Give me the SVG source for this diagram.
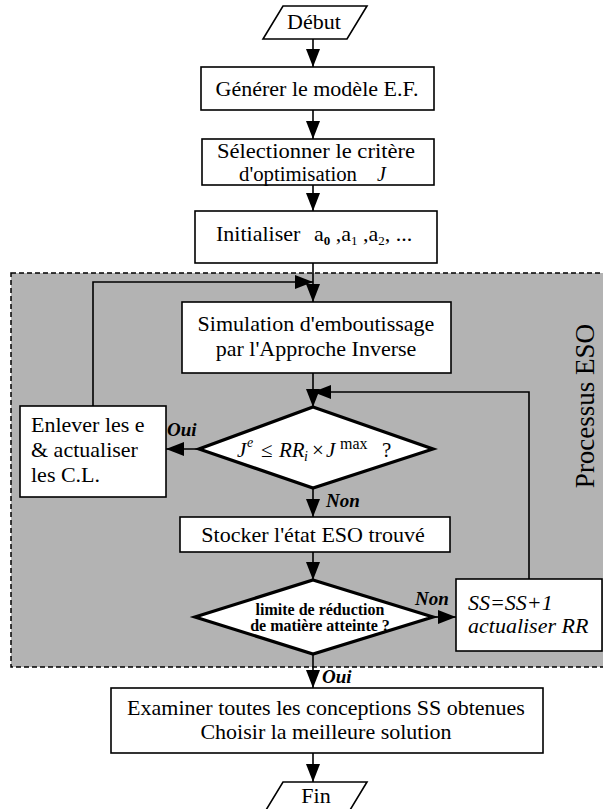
<svg xmlns="http://www.w3.org/2000/svg" width="603" height="809" viewBox="0 0 603 809">
<style>
text{font-family:"Liberation Serif","Times New Roman",serif;fill:#000}
.t{font-size:22px}
.box{fill:#fff;stroke:#000;stroke-width:1.6}
.dia{fill:#fff;stroke:#000;stroke-width:3.2;stroke-linejoin:miter}
.con{fill:none;stroke:#000;stroke-width:1.6}
.lbl{font-size:19px;font-weight:bold;font-style:italic}
</style>
<defs>
<marker id="ah" markerUnits="userSpaceOnUse" markerWidth="18" markerHeight="14" refX="18" refY="7" orient="auto">
<path d="M0,0 L18,7 L0,14 z" fill="#000"/>
</marker>
</defs>
<rect width="603" height="809" fill="#fff"/>
<g id="eso-region">
<rect x="11" y="273" width="600" height="394" fill="#b3b3b3" stroke="#000" stroke-width="1.5" stroke-dasharray="5,3"/>
<text x="594" y="406" font-size="27" text-anchor="middle" transform="rotate(-90 594 406)">Processus ESO</text>
</g>
<g id="connectors">
<line class="con" x1="313" y1="39" x2="313" y2="67" marker-end="url(#ah)"/>
<line class="con" x1="313" y1="110" x2="313" y2="139" marker-end="url(#ah)"/>
<line class="con" x1="313" y1="185" x2="313" y2="211" marker-end="url(#ah)"/>
<line class="con" x1="313" y1="263" x2="313" y2="302" marker-end="url(#ah)"/>
<polyline class="con" points="93,406 93,282 313,282" marker-end="url(#ah)"/>
<line class="con" x1="313" y1="373" x2="313" y2="407" marker-end="url(#ah)"/>
<polyline class="con" points="529,579 529,392 313,392" marker-end="url(#ah)"/>
<line class="con" x1="199" y1="449" x2="166" y2="449" marker-end="url(#ah)"/>
<line class="con" x1="313" y1="488" x2="313" y2="517" marker-end="url(#ah)"/>
<line class="con" x1="313" y1="552" x2="313" y2="580" marker-end="url(#ah)"/>
<line class="con" x1="433" y1="617" x2="456" y2="617" marker-end="url(#ah)"/>
<line class="con" x1="313" y1="654" x2="313" y2="688" marker-end="url(#ah)"/>
<line class="con" x1="313" y1="753" x2="313" y2="782" marker-end="url(#ah)"/>
<text class="lbl" x="167" y="436">Oui</text>
<text class="lbl" x="326" y="507">Non</text>
<text class="lbl" x="415" y="605">Non</text>
<text class="lbl" x="322" y="683">Oui</text>
</g>
<g id="debut">
<polygon points="283,6 367,6 347,39 263,39" fill="#fff" stroke="#000" stroke-width="1.6"/>
<text class="t" x="314" y="29" text-anchor="middle" font-size="21">Début</text>
</g>
<g id="generer">
<rect class="box" x="201" y="67" width="233" height="43"/>
<text class="t" x="317" y="96" text-anchor="middle">Générer le modèle E.F.</text>
</g>
<g id="selectionner">
<rect class="box" x="202" y="139" width="232" height="46"/>
<text x="217" y="158" font-size="20" textLength="198" lengthAdjust="spacingAndGlyphs">Sélectionner le critère</text>
<text x="239" y="180.5" font-size="20" textLength="118" lengthAdjust="spacingAndGlyphs">d'optimisation</text>
<text x="377" y="180.5" font-size="20" font-style="italic">J</text>
</g>
<g id="initialiser">
<rect class="box" x="195" y="211" width="242" height="52"/>
<text class="t" x="216" y="241">Initialiser <tspan x="314">a</tspan><tspan font-size="13" font-weight="bold" dy="4">0</tspan><tspan dy="-4"> ,a</tspan><tspan font-size="13" dy="4">1</tspan><tspan dy="-4"> ,a</tspan><tspan font-size="13" dy="4">2</tspan><tspan dy="-4">, ...</tspan></text>
</g>
<g id="simulation">
<rect class="box" x="182" y="302" width="269" height="71"/>
<text class="t" x="316" y="331" text-anchor="middle">Simulation d'emboutissage</text>
<text class="t" x="316" y="356" text-anchor="middle">par l'Approche Inverse</text>
</g>
<g id="test-j">
<polygon class="dia" points="313,407 433,449 313,488 199,449"/>
<text x="237" y="457" font-size="21" font-style="italic">J</text>
<text x="247" y="447" font-size="14" font-style="italic">e</text>
<text x="261" y="457" font-size="21">≤</text>
<text x="279" y="457" font-size="21" font-style="italic">RR</text>
<text x="304" y="461" font-size="14" font-style="italic">i</text>
<text x="312" y="457" font-size="21">×</text>
<text x="326" y="457" font-size="21" font-style="italic">J</text>
<text x="340" y="449" font-size="16">max</text>
<text x="382" y="457" font-size="21">?</text>
</g>
<g id="enlever">
<rect class="box" x="20" y="406" width="146" height="91"/>
<text class="t" x="31" y="432">Enlever les e</text>
<text class="t" x="31" y="457">&amp; actualiser</text>
<text class="t" x="31" y="482">les C.L.</text>
</g>
<g id="stocker">
<rect class="box" x="180" y="517" width="270" height="35"/>
<text class="t" x="313" y="542" text-anchor="middle">Stocker l'état ESO trouvé</text>
</g>
<g id="test-limite">
<polygon class="dia" points="313,580 433,617 313,654 195,617"/>
<text x="320" y="615" font-size="16" font-weight="bold" text-anchor="middle">limite de réduction</text>
<text x="320" y="631" font-size="16" font-weight="bold" text-anchor="middle">de matière atteinte ?</text>
</g>
<g id="ss-update">
<rect class="box" x="456" y="579" width="146" height="72"/>
<text class="t" x="468" y="610" font-style="italic">SS=SS+1</text>
<text class="t" x="468" y="633" font-style="italic">actualiser RR</text>
</g>
<g id="examiner">
<rect class="box" x="111" y="688" width="432" height="65"/>
<text class="t" x="326" y="715" text-anchor="middle">Examiner toutes les conceptions SS obtenues</text>
<text class="t" x="326" y="739" text-anchor="middle">Choisir la meilleure solution</text>
</g>
<g id="fin">
<polygon points="283,782 367,782 347,815 263,815" fill="#fff" stroke="#000" stroke-width="1.6"/>
<text class="t" x="316" y="803" text-anchor="middle">Fin</text>
</g>
</svg>
